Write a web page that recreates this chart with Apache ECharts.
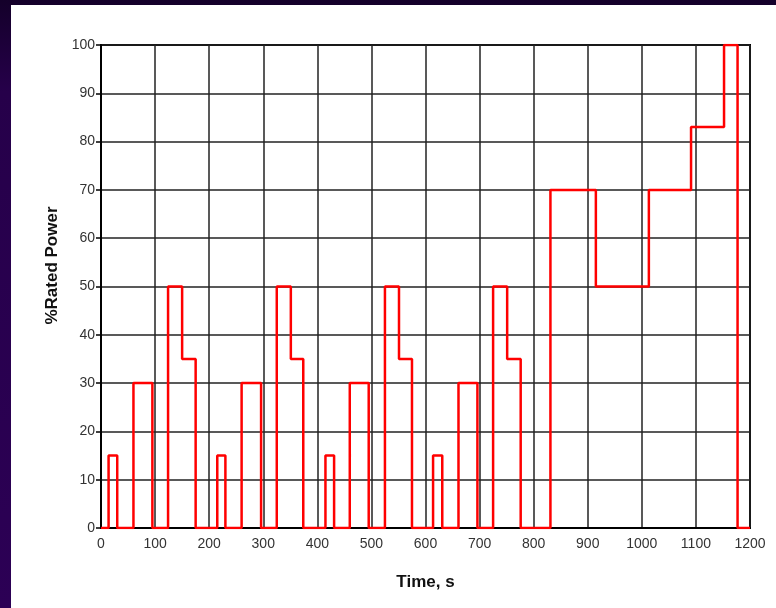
<!DOCTYPE html>
<html>
<head>
<meta charset="utf-8">
<script src="https://cdn.jsdelivr.net/npm/echarts@6/dist/echarts.min.js"></script>
<style>
  html, body { margin: 0; padding: 0; }
  body {
    width: 776px; height: 608px; overflow: hidden;
    background: linear-gradient(to bottom, #14002a 0%, #26004a 15%, #2c0055 100%);
    position: relative;
  }
  #panel { position: absolute; left: 11px; top: 5px; right: 0; bottom: 0; background: #fff; }
  #main { position: absolute; left: 0; top: 0; width: 776px; height: 608px; }
</style>
</head>
<body>
<div id="panel"></div>
<div id="main"></div>
<script>
// step change times (s) and the power level held from that time on (%)
const times = [0, 14, 30, 60, 95, 124, 150, 175, 215, 230, 260, 296, 325, 351, 374, 415, 431, 460, 495, 525, 551, 575, 614, 631, 661, 696, 725, 751, 776, 831, 915, 1013, 1091, 1152, 1177, 1200]
const power = [0, 15, 0, 30, 0, 50, 35, 0, 15, 0, 30, 0, 50, 35, 0, 15, 0, 30, 0, 50, 35, 0, 15, 0, 30, 0, 50, 35, 0, 70, 50, 70, 83, 100, 0, 0]

const fontFamily = '"Liberation Sans", Arial, sans-serif'

const chart = echarts.init(document.getElementById('main'))

chart.setOption({
  backgroundColor: 'transparent',
  animation: false,
  grid: {
    left: 101,
    right: 26,
    top: 45,
    bottom: 80,
    show: true,
    borderColor: '#000',
    borderWidth: 2
  },
  xAxis: {
    type: 'value',
    min: 0,
    max: 1200,
    interval: 100,
    name: 'Time, s',
    nameLocation: 'middle',
    nameGap: 46,
    nameTextStyle: { fontFamily, fontWeight: 'bold', fontSize: 17, color: '#111' },
    axisLine: { show: true, lineStyle: { color: '#000', width: 2 } },
    axisTick: { show: false },
    axisLabel: { fontFamily, fontSize: 14, color: '#333', margin: 9, formatter: v => String(v) },
    splitLine: { show: true, lineStyle: { color: '#222', width: 1.5 } }
  },
  yAxis: {
    type: 'value',
    min: 0,
    max: 100,
    interval: 10,
    name: '%Rated Power',
    nameLocation: 'middle',
    nameGap: 34,
    nameTextStyle: { fontFamily, fontWeight: 'bold', fontSize: 17, color: '#111', padding: [0, 0, 0, 42] },
    axisLine: { show: true, lineStyle: { color: '#000', width: 2 } },
    axisTick: { show: true, length: 5, lineStyle: { color: '#000', width: 1.5 } },
    axisLabel: { fontFamily, fontSize: 14, color: '#333', margin: 6 },
    splitLine: { show: true, lineStyle: { color: '#222', width: 1.5 } }
  },
  series: [
    {
      type: 'line',
      step: 'end',
      symbol: 'none',
      lineStyle: { color: '#ff0000', width: 2.5 },
      data: times.map((t, i) => [t, power[i]])
    }
  ]
})
</script>
</body>
</html>
